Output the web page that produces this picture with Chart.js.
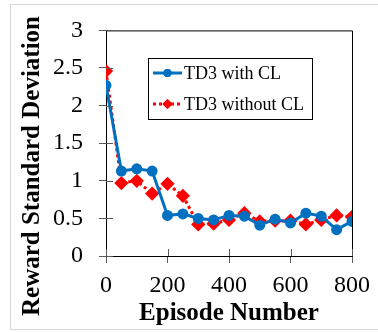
<!DOCTYPE html>
<html>
<head>
<meta charset="utf-8">
<script src="https://cdn.jsdelivr.net/npm/chart.js@4/dist/chart.umd.min.js"></script>
<style>
  html, body { margin: 0; padding: 0; background: #fff; }
  #wrap { width: 378px; height: 332px; }
</style>
</head>
<body>
<div id="wrap"><canvas id="chart" width="378" height="332"></canvas></div>
<script>
// Données
const episodes = [0, 50, 100, 150, 200, 250, 300, 350, 400, 450, 500, 550, 600, 650, 700, 750, 800];
const withCL    = [2.27, 1.13, 1.16, 1.13, 0.54, 0.56, 0.50, 0.48, 0.54, 0.53, 0.41, 0.49, 0.44, 0.57, 0.53, 0.35, 0.46];
const withoutCL = [2.46, 0.97, 1.00, 0.83, 0.96, 0.80, 0.42, 0.43, 0.48, 0.57, 0.46, 0.47, 0.47, 0.42, 0.48, 0.54, 0.52];
const seriesLabels = ['TD3 with CL', 'TD3 without CL'];
const xTitle = 'Episode Number';
const yTitle = 'Reward Standard Deviation';
const xTickStep = 200;
const yTickStep = 0.5;

const SERIF = '"Liberation Serif", "Times New Roman", serif';
const BLUE = '#0070C0';
const RED = '#FF0000';

const toPoints = (ys) => ys.map((y, i) => ({ x: episodes[i], y }));

// Cadre gris autour de la figure
const framePlugin = {
  id: 'frame',
  beforeDraw(chart){
    const ctx = chart.ctx;
    ctx.save();
    ctx.fillStyle = '#fff';
    ctx.fillRect(0, 0, chart.width, chart.height);
    ctx.strokeStyle = '#d9d9d9';
    ctx.lineWidth = 1;
    ctx.strokeRect(10.5, 4.5, chart.width, 325);
    ctx.restore();
  }
};

// Bordure haut/droite + demi-graduations intérieures + titre vertical
const boxPlugin = {
  id: 'box',
  afterDraw(chart){
    const {ctx, chartArea: a, scales} = chart;
    ctx.save();
    ctx.strokeStyle = '#000';
    ctx.lineWidth = 1;
    ctx.beginPath();
    ctx.moveTo(a.left, a.top + 0.5);
    ctx.lineTo(a.right + 0.5, a.top + 0.5);
    ctx.lineTo(a.right + 0.5, a.bottom);
    ctx.stroke();
    ctx.strokeStyle = '#595959';
    ctx.beginPath();
    scales.y.ticks.forEach(t => {
      const py = Math.round(scales.y.getPixelForValue(t.value)) + 0.5;
      ctx.moveTo(a.left, py);
      ctx.lineTo(a.left + 7, py);
    });
    scales.x.ticks.forEach(t => {
      const px = Math.round(scales.x.getPixelForValue(t.value)) + 0.5;
      ctx.moveTo(px, a.bottom);
      ctx.lineTo(px, a.bottom - 7);
    });
    ctx.stroke();

    // titre de l'axe Y, centré sur toute la hauteur de la figure
    ctx.translate(33, 166);
    ctx.rotate(-Math.PI / 2);
    ctx.fillStyle = '#000';
    ctx.font = 'bold 25px ' + SERIF;
    ctx.textAlign = 'center';
    ctx.textBaseline = 'middle';
    ctx.fillText(yTitle, 0, 0);
    ctx.restore();
  }
};

// Légende encadrée dans la zone du graphique
const boxLegend = {
  id: 'boxLegend',
  afterDraw(chart){
    const ctx = chart.ctx;
    const bx = 148, by = 58, bw = 164, bh = 61;
    ctx.save();
    ctx.fillStyle = '#fff';
    ctx.fillRect(bx, by, bw, bh);
    ctx.strokeStyle = '#000';
    ctx.lineWidth = 1;
    ctx.strokeRect(bx + 0.5, by + 0.5, bw, bh);
    chart.data.datasets.forEach((ds, i) => {
      const y = by + 15 + i * 31;
      ctx.strokeStyle = ds.borderColor;
      ctx.lineWidth = ds.borderWidth;
      ctx.setLineDash(ds.borderDash || []);
      ctx.beginPath();
      ctx.moveTo(153, y);
      ctx.lineTo(182, y);
      ctx.stroke();
      ctx.setLineDash([]);
      ctx.fillStyle = ds.pointBackgroundColor;
      Chart.helpers.drawPoint(ctx, { pointStyle: ds.pointStyle, radius: ds.pointRadius, borderWidth: 0 }, 167.5, y);
      ctx.fill();
      ctx.fillStyle = '#000';
      ctx.font = '18px ' + SERIF;
      ctx.textBaseline = 'middle';
      ctx.fillText(ds.label, 184, y + 1);
    });
    ctx.restore();
  }
};

new Chart(document.getElementById('chart'), {
  type: 'line',
  data: {
    datasets: [
      {
        label: seriesLabels[0],
        data: toPoints(withCL),
        borderColor: BLUE,
        backgroundColor: BLUE,
        pointBackgroundColor: BLUE,
        pointBorderColor: BLUE,
        borderWidth: 3,
        pointRadius: 4,
        pointStyle: 'circle',
        tension: 0
      },
      {
        label: seriesLabels[1],
        data: toPoints(withoutCL),
        borderColor: RED,
        backgroundColor: RED,
        pointBackgroundColor: RED,
        pointBorderColor: RED,
        borderWidth: 3,
        borderDash: [3, 3],
        pointRadius: 5,
        pointStyle: 'rectRot',
        tension: 0
      }
    ]
  },
  options: {
    responsive: false,
    animation: false,
    devicePixelRatio: 1,
    layout: { padding: { top: 17, right: 21, left: 0, bottom: 0 } },
    plugins: { legend: { display: false }, tooltip: { enabled: false } },
    scales: {
      x: {
        type: 'linear',
        min: 0, max: 800,
        afterFit: s => { s.height = 76; },
        ticks: { stepSize: xTickStep, color: '#000', font: { family: SERIF, size: 24 }, padding: 8, maxRotation: 0 },
        grid: { drawOnChartArea: false, drawTicks: true, tickLength: 7, color: '#595959' },
        border: { display: true, color: '#000', width: 1 },
        title: { display: true, text: xTitle, color: '#000', font: { family: SERIF, size: 25, weight: 'bold', lineHeight: 1.2 }, padding: { top: 0, bottom: 3 } }
      },
      y: {
        min: 0, max: 3,
        afterFit: s => { s.width = 106; },
        ticks: { stepSize: yTickStep, color: '#000', font: { family: SERIF, size: 24 }, padding: 16, callback: v => String(v) },
        grid: { drawOnChartArea: false, drawTicks: true, tickLength: 7, color: '#595959' },
        border: { display: true, color: '#000', width: 1 }
      }
    }
  },
  plugins: [framePlugin, boxPlugin, boxLegend]
});
</script>
</body>
</html>
